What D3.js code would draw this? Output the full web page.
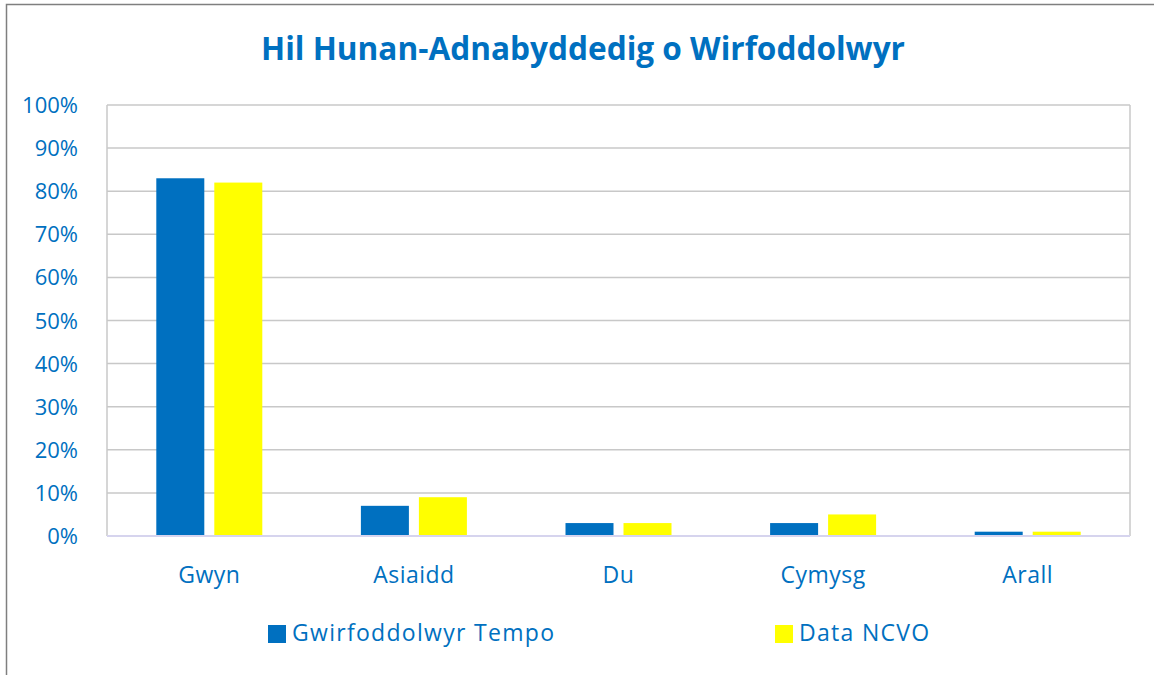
<!DOCTYPE html>
<html><head><meta charset="utf-8">
<script src="https://cdn.jsdelivr.net/npm/d3@7"></script>
<style>body{margin:0;background:#fff}svg{display:block}</style>
</head><body>
<svg id="c" width="1154" height="675"></svg>
<script>
const categories = ["Gwyn", "Asiaidd", "Du", "Cymysg", "Arall"];
const seriesNames = ["Gwirfoddolwyr Tempo", "Data NCVO"];
const tempo = [83, 7, 3, 3, 1];
const ncvo = [82, 9, 3, 5, 1];
const yTicks = [0, 10, 20, 30, 40, 50, 60, 70, 80, 90, 100];
const titleText = "Hil Hunan-Adnabyddedig o Wirfoddolwyr";

const colors = ["#0070C0", "#FFFF00"];
const textColor = "#0070C0";
const svg = d3.select("#c");
const m = {l: 107, t: 105, r: 1130, b: 536};

svg.append("path").attr("d", "M6.5,675 V4.5 H1154").attr("fill", "none").attr("stroke", "#7f7f7f").attr("stroke-width", 1.5);

svg.append("text").attr("x", 583).attr("y", 60).attr("text-anchor", "middle")
  .attr("font-family", "Open Sans").attr("font-weight", "bold").attr("font-size", 31.6)
  .attr("fill", textColor).text(titleText);

const x = d3.scaleBand().domain(categories).range([m.l, m.r]);
const y = d3.scaleLinear().domain([0, 100]).range([m.b, m.t]);

// gridlines
svg.append("g").selectAll("line").data(yTicks.filter(d => d > 0)).join("line")
  .attr("x1", m.l).attr("x2", m.r).attr("y1", d => y(d)).attr("y2", d => y(d))
  .attr("stroke", "#c8c8c8").attr("stroke-width", 1.5);
svg.append("line").attr("x1", m.l).attr("x2", m.l).attr("y1", m.t).attr("y2", m.b).attr("stroke", "#c8c8c8").attr("stroke-width", 1.5);
svg.append("line").attr("x1", m.r).attr("x2", m.r).attr("y1", m.t).attr("y2", m.b).attr("stroke", "#c8c8c8").attr("stroke-width", 1.5);

const data = [tempo, ncvo];
const bw = 48, gap = 10;
data.forEach((vals, si) => {
  svg.append("g").selectAll("rect").data(categories).join("rect")
    .attr("x", (c) => x(c) + x.bandwidth() / 2 - gap / 2 - bw + si * (bw + gap))
    .attr("width", bw)
    .attr("y", (c, i) => y(vals[i]))
    .attr("height", (c, i) => y(0) - y(vals[i]))
    .attr("fill", colors[si]);
});

svg.append("line").attr("x1", m.l).attr("x2", m.r).attr("y1", m.b).attr("y2", m.b).attr("stroke", "#d6d4ee").attr("stroke-width", 2);

// y axis labels
svg.append("g").selectAll("text").data(yTicks).join("text")
  .attr("x", 78).attr("y", d => y(d) + 8).attr("text-anchor", "end")
  .attr("font-family", "Open Sans").attr("font-size", 22).attr("fill", textColor)
  .text(d => d + "%");

// x labels
svg.append("g").selectAll("text").data(categories).join("text")
  .attr("x", c => x(c) + x.bandwidth() / 2).attr("y", 583).attr("text-anchor", "middle")
  .attr("font-family", "Open Sans").attr("font-size", 23).attr("letter-spacing", 0.5).attr("fill", textColor)
  .text(c => c);

// legend
const legX = [268, 775];
seriesNames.forEach((n, i) => {
  svg.append("rect").attr("x", legX[i]).attr("y", 625).attr("width", 18).attr("height", 18).attr("fill", colors[i]);
  svg.append("text").attr("x", legX[i] + 24).attr("y", 641)
    .attr("font-family", "Open Sans").attr("font-size", 23).attr("letter-spacing", 1.3).attr("fill", textColor).text(n);
});
</script>
</body></html>
